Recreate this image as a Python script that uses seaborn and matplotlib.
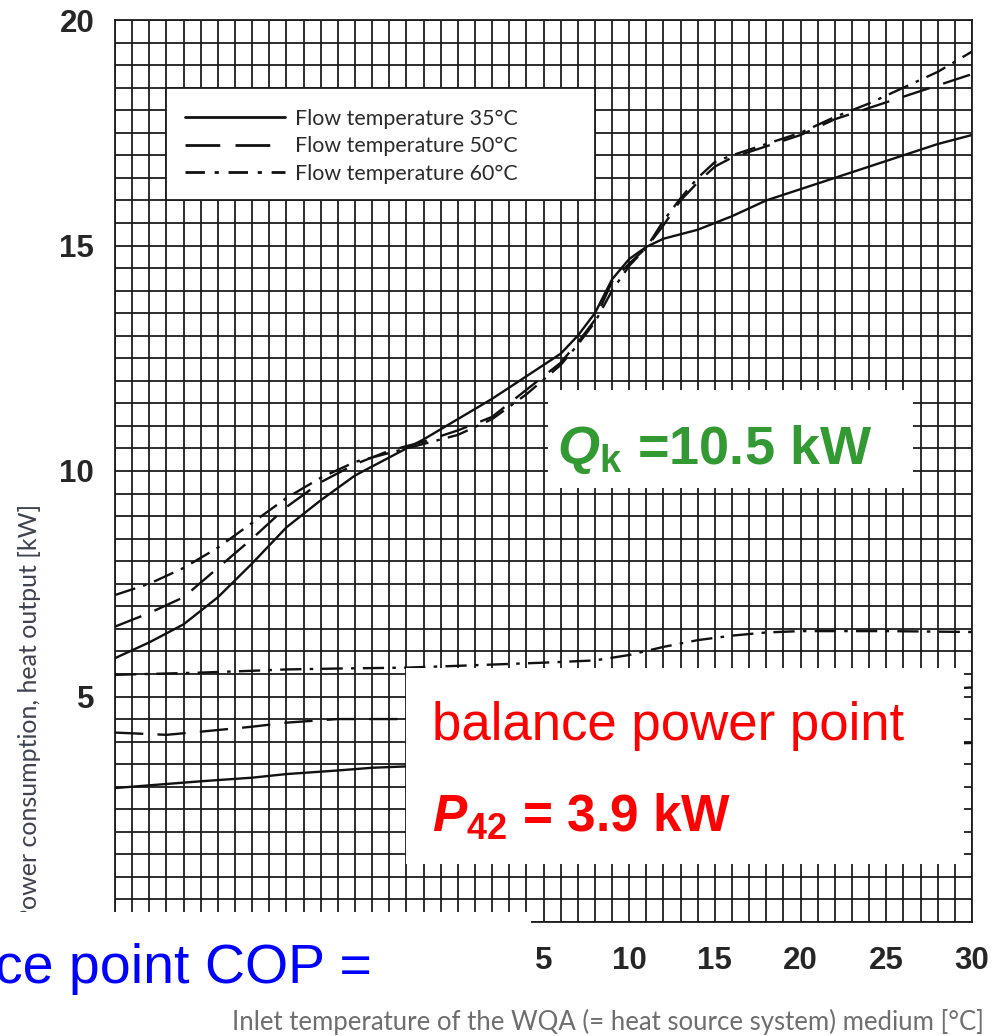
import numpy as np
import pandas as pd
import matplotlib
matplotlib.use("Agg")
import matplotlib.pyplot as plt
from matplotlib.patches import Rectangle
from matplotlib.ticker import MultipleLocator
import seaborn as sns

# ---- heat output curves [kW] vs. inlet temperature [°C] ----
heat_x = [-20, -18, -16, -14, -12, -10, -8, -6, -4, -2, 0, 2, 4, 6, 7, 8, 9, 10,
          11, 12, 13, 14, 15, 16, 18, 20, 22, 24, 26, 28, 30]
heat_35 = [5.85, 6.2, 6.6, 7.2, 7.95, 8.75, 9.35, 9.9, 10.3, 10.7, 11.15, 11.6,
           12.1, 12.6, 13.0, 13.5, 14.25, 14.7, 14.97, 15.15, 15.25, 15.35, 15.5,
           15.65, 16.0, 16.25, 16.5, 16.75, 17.0, 17.25, 17.45]
heat_50 = [6.55, 6.85, 7.2, 7.85, 8.5, 9.2, 9.75, 10.15, 10.45, 10.65, 10.9, 11.2,
           11.8, 12.4, 12.85, 13.35, 14.2, 14.6, 14.95, 15.45, 16.0, 16.4, 16.75,
           16.95, 17.2, 17.45, 17.8, 18.05, 18.3, 18.55, 18.8]
heat_60 = [7.25, 7.5, 7.85, 8.3, 8.85, 9.4, 9.85, 10.2, 10.4, 10.6, 10.8, 11.15,
           11.7, 12.35, 12.8, 13.3, 14.0, 14.55, 14.95, 15.55, 16.05, 16.5, 16.85,
           17.0, 17.25, 17.5, 17.85, 18.15, 18.5, 18.85, 19.3]

# ---- power consumption curves [kW] ----
power_x = [-20, -17, -15, -12, -10, -7, -5, -3, 0, 5, 8, 10, 12, 14, 16, 18, 20, 25, 30]
power_35 = [2.97, 3.06, 3.12, 3.2, 3.28, 3.36, 3.42, 3.45, 3.5, 3.58, 3.63, 3.66,
            3.7, 3.74, 3.78, 3.81, 3.84, 3.91, 3.97]
power_50 = [4.2, 4.15, 4.22, 4.33, 4.42, 4.5, 4.5, 4.5, 4.55, 4.62, 4.68, 4.72,
            4.77, 4.82, 4.88, 4.93, 4.98, 5.1, 5.2]
power_60 = [5.48, 5.51, 5.53, 5.57, 5.6, 5.62, 5.63, 5.64, 5.68, 5.75, 5.8, 5.92,
            6.1, 6.25, 6.35, 6.42, 6.45, 6.45, 6.43]

series_labels = ["Flow temperature 35°C", "Flow temperature 50°C", "Flow temperature 60°C"]

x_ticks = [-20, -15, -10, -5, 0, 5, 10, 15, 20, 25, 30]
x_tick_labels = ["", "", "", "", "", "5", "10", "15", "20", "25", "30"]
y_ticks = [0, 5, 10, 15, 20]
y_tick_labels = ["", "5", "10", "15", "20"]

# long-form table for seaborn
frames = []
for lbl, hv, pv in zip(series_labels, [heat_35, heat_50, heat_60],
                       [power_35, power_50, power_60]):
    frames.append(pd.DataFrame({"t": heat_x, "kW": hv, "flow": lbl, "kind": "heat"}))
    frames.append(pd.DataFrame({"t": power_x, "kW": pv, "flow": lbl, "kind": "power"}))
df = pd.concat(frames, ignore_index=True)

sns.set_theme(style="white")
plt.rcParams["mathtext.fontset"] = "custom"
plt.rcParams["mathtext.rm"] = "Liberation Sans"
plt.rcParams["mathtext.bf"] = "Liberation Sans:bold"
plt.rcParams["mathtext.bfit"] = "Liberation Sans:italic:bold"

W, H = 1002, 1036
fig = plt.figure(figsize=(W / 100, H / 100), dpi=100)


def fx(px):
    return px / W


def fy(py):
    return 1 - py / H


ax = fig.add_axes([fx(115), fy(922), fx(972) - fx(115), (922 - 20) / H])
ax.set_xlim(-20, 30)
ax.set_ylim(0, 20)
ax.set_axisbelow(True)

dash_map = {series_labels[0]: "",
            series_labels[1]: (12, 6),
            series_labels[2]: (9, 3.5, 1.5, 3.5)}
for kind in ["heat", "power"]:
    sub = df[df["kind"] == kind]
    sns.lineplot(data=sub, x="t", y="kW", style="flow", dashes=dash_map,
                 color="#111111", linewidth=1.7, ax=ax, legend=False,
                 sort=False, estimator=None, zorder=3)

# dense paper grid
ax.xaxis.set_minor_locator(MultipleLocator(1))
ax.yaxis.set_minor_locator(MultipleLocator(0.5))
ax.grid(True, which="both", color="#1c1c1c", linewidth=1.3)
for s in ax.spines.values():
    s.set_color("#1c1c1c")
    s.set_linewidth(1.3)

ax.set_xticks(x_ticks)
ax.set_xticklabels(x_tick_labels)
ax.set_yticks(y_ticks)
ax.set_yticklabels(y_tick_labels)
ax.tick_params(axis="both", which="major", direction="out", color="#1c1c1c",
               width=1.4, labelsize=22.5, labelcolor="#262626")
ax.tick_params(axis="x", which="major", length=9, pad=8)
ax.tick_params(axis="y", which="major", length=7, pad=8)
ax.tick_params(which="minor", length=0)
for lab in ax.get_xticklabels() + ax.get_yticklabels():
    lab.set_fontfamily(["Liberation Sans", "DejaVu Sans"])
    lab.set_fontweight("bold")
ax.set_xlabel("")
ax.set_ylabel("")

# legend on a white panel cut out of the grid
ax.add_patch(Rectangle((-17, 16), 25, 2.5, facecolor="white", edgecolor="#1c1c1c",
                       linewidth=1.3, zorder=1.5))
handles = [plt.Line2D([], [], color="#111111", linewidth=2.0),
           plt.Line2D([], [], color="#111111", linewidth=2.0, dashes=(12.5, 5.5)),
           plt.Line2D([], [], color="#111111", linewidth=2.0, dashes=(7, 3.5, 1.5, 3.5))]
leg = ax.legend(handles, series_labels, loc="upper left",
                bbox_to_anchor=(fx(174), fy(98)), bbox_transform=fig.transFigure,
                frameon=False, handlelength=4.7, handletextpad=0.45, labelspacing=0.35,
                borderpad=0, prop={"family": ["Lato", "DejaVu Sans"], "size": 15.4})
for t in leg.get_texts():
    t.set_color("#2a2a2a")
leg.set_zorder(2)

# axis titles
fig.text(fx(30), fy(714), "Power consumption, heat output [kW]", rotation=90,
         ha="center", va="center", fontsize=18, color="#3d4250",
         family=["Lato", "DejaVu Sans"], zorder=2)
fig.text(fx(608), fy(1022), "Inlet temperature of the WQA (= heat source system) medium [°C]",
         ha="center", va="center", fontsize=18.5, color="#6e6e6e",
         family=["Lato", "DejaVu Sans"], zorder=2)

sans = ["Liberation Sans", "DejaVu Sans"]

# annotation panels
fig.patches.append(Rectangle((fx(548), fy(488)), (913 - 548) / W, (488 - 390) / H,
                             transform=fig.transFigure, facecolor="white",
                             edgecolor="none", zorder=4))
fig.patches.append(Rectangle((fx(406), fy(864)), (964 - 406) / W, (864 - 668) / H,
                             transform=fig.transFigure, facecolor="white",
                             edgecolor="none", zorder=4))
fig.patches.append(Rectangle((fx(0), fy(1005)), 531 / W, (1005 - 912) / H,
                             transform=fig.transFigure, facecolor="white",
                             edgecolor="none", zorder=4))

fig.text(fx(557), fy(464), r"$\mathbfit{Q}_\mathbf{k}$ =10.5 kW", ha="left",
         va="baseline", fontsize=39, fontweight="bold", color="#339933",
         family=sans, zorder=5)
fig.text(fx(432), fy(740), "balance power point", ha="left", va="baseline",
         fontsize=38, color="#ff0000", family=sans, zorder=5)
fig.text(fx(432), fy(832), r"$\mathbfit{P}_\mathbf{42}$ = 3.9 kW", ha="left",
         va="baseline", fontsize=37, fontweight="bold", color="#ff0000",
         family=sans, zorder=5)
fig.text(fx(372), fy(983), "balance point COP =", ha="right", va="baseline",
         fontsize=40, color="#0000ff", family=sans, zorder=5)

fig.savefig("out.png", dpi=100)
